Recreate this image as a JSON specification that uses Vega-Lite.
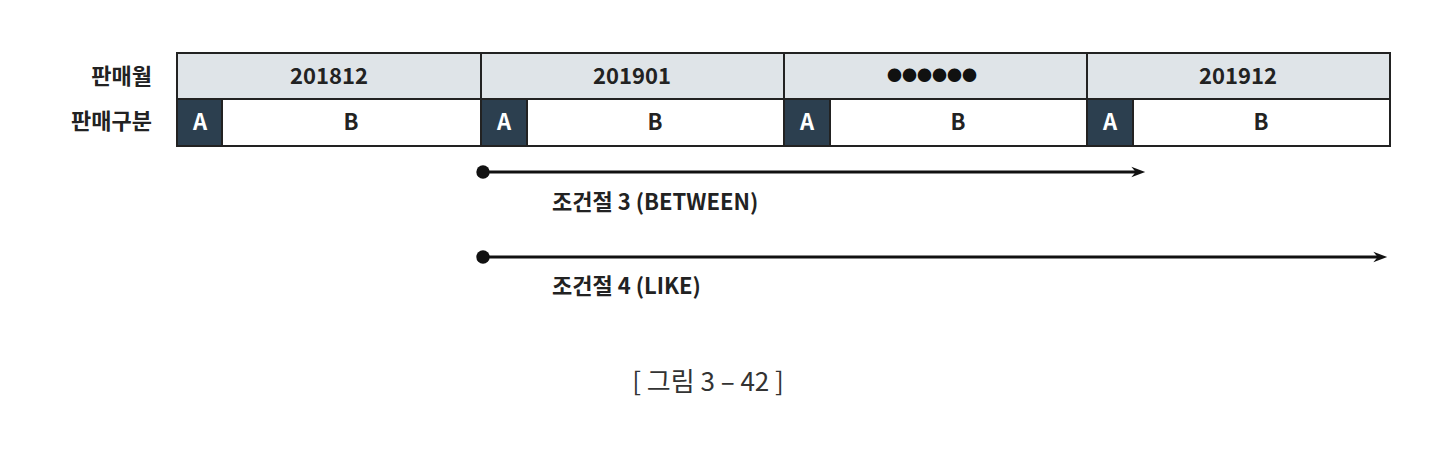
{
  "$schema": "https://vega.github.io/schema/vega-lite/v6.json",
  "width": 1440,
  "height": 465,
  "padding": 0,
  "autosize": {"type": "none"},
  "background": "#ffffff",
  "view": {"stroke": null},
  "config": {"text": {"font": "Noto Sans CJK KR"}},
  "datasets": {
    "cells": [
      {"x": 177, "x2": 481, "y": 53, "y2": 99, "kind": "month"},
      {"x": 481, "x2": 784, "y": 53, "y2": 99, "kind": "month"},
      {"x": 784, "x2": 1087, "y": 53, "y2": 99, "kind": "month"},
      {"x": 1087, "x2": 1390, "y": 53, "y2": 99, "kind": "month"},
      {"x": 177, "x2": 222, "y": 99, "y2": 146, "kind": "A"},
      {"x": 222, "x2": 481, "y": 99, "y2": 146, "kind": "B"},
      {"x": 481, "x2": 527, "y": 99, "y2": 146, "kind": "A"},
      {"x": 527, "x2": 784, "y": 99, "y2": 146, "kind": "B"},
      {"x": 784, "x2": 830, "y": 99, "y2": 146, "kind": "A"},
      {"x": 830, "x2": 1087, "y": 99, "y2": 146, "kind": "B"},
      {"x": 1087, "x2": 1133, "y": 99, "y2": 146, "kind": "A"},
      {"x": 1133, "x2": 1390, "y": 99, "y2": 146, "kind": "B"}
    ],
    "labels": [
      {"x": 329, "y": 77, "t": "201812", "c": "dark"},
      {"x": 632, "y": 77, "t": "201901", "c": "dark"},
      {"x": 1238, "y": 77, "t": "201912", "c": "dark"},
      {"x": 200, "y": 123, "t": "A", "c": "light"},
      {"x": 351, "y": 123, "t": "B", "c": "dark"},
      {"x": 504, "y": 123, "t": "A", "c": "light"},
      {"x": 655, "y": 123, "t": "B", "c": "dark"},
      {"x": 807, "y": 123, "t": "A", "c": "light"},
      {"x": 958, "y": 123, "t": "B", "c": "dark"},
      {"x": 1110, "y": 123, "t": "A", "c": "light"},
      {"x": 1261, "y": 123, "t": "B", "c": "dark"}
    ],
    "dots": [{"x": 932, "y": 76, "t": "●●●●●●"}],
    "side": [
      {"x": 152, "y": 77, "t": "판매월"},
      {"x": 152, "y": 122, "t": "판매구분"}
    ],
    "arrows": [
      {"x": 483, "x2": 1140, "y": 172},
      {"x": 483, "x2": 1382, "y": 257}
    ],
    "heads": [
      {"x": 1140, "y": 172},
      {"x": 1382, "y": 257}
    ],
    "notes": [
      {"x": 552, "y": 203, "t": "조건절 3 (BETWEEN)"},
      {"x": 552, "y": 287, "t": "조건절 4 (LIKE)"}
    ],
    "caption": [{"x": 708, "y": 383, "t": "[ 그림 3 – 42 ]"}]
  },
  "layer": [
    {
      "data": {"name": "cells"},
      "mark": {"type": "rect", "stroke": "#222222", "strokeWidth": 2},
      "encoding": {
        "x": {"field": "x", "type": "quantitative", "scale": {"domain": [0, 1440], "nice": false, "zero": false}, "axis": null},
        "x2": {"field": "x2"},
        "y": {"field": "y", "type": "quantitative", "scale": {"domain": [0, 465], "reverse": true, "nice": false, "zero": false}, "axis": null},
        "y2": {"field": "y2"},
        "fill": {"field": "kind", "type": "nominal", "scale": {"domain": ["month", "A", "B"], "range": ["#dfe4e8", "#2c3f4f", "#ffffff"]}, "legend": null}
      }
    },
    {
      "data": {"name": "labels"},
      "mark": {"type": "text", "fontSize": 22, "fontWeight": "bold", "baseline": "middle"},
      "encoding": {
        "x": {"field": "x", "type": "quantitative"},
        "y": {"field": "y", "type": "quantitative"},
        "text": {"field": "t"},
        "color": {"field": "c", "type": "nominal", "scale": {"domain": ["dark", "light"], "range": ["#222222", "#ffffff"]}, "legend": null}
      }
    },
    {
      "data": {"name": "dots"},
      "mark": {"type": "text", "fontSize": 15, "letterSpacing": 1, "baseline": "middle", "color": "#111111"},
      "encoding": {
        "x": {"field": "x", "type": "quantitative"},
        "y": {"field": "y", "type": "quantitative"},
        "text": {"field": "t"}
      }
    },
    {
      "data": {"name": "side"},
      "mark": {"type": "text", "fontSize": 22, "fontWeight": "bold", "align": "right", "baseline": "middle", "color": "#222222"},
      "encoding": {
        "x": {"field": "x", "type": "quantitative"},
        "y": {"field": "y", "type": "quantitative"},
        "text": {"field": "t"}
      }
    },
    {
      "data": {"name": "arrows"},
      "mark": {"type": "rule", "strokeWidth": 3, "color": "#111111"},
      "encoding": {
        "x": {"field": "x", "type": "quantitative"},
        "x2": {"field": "x2"},
        "y": {"field": "y", "type": "quantitative"}
      }
    },
    {
      "data": {"name": "arrows"},
      "mark": {"type": "point", "filled": true, "size": 180, "color": "#111111", "opacity": 1},
      "encoding": {
        "x": {"field": "x", "type": "quantitative"},
        "y": {"field": "y", "type": "quantitative"}
      }
    },
    {
      "data": {"name": "heads"},
      "mark": {"type": "point", "shape": "M-1,-0.6L0.6,0L-1,0.6L-0.5,0Z", "filled": true, "size": 300, "color": "#111111", "opacity": 1},
      "encoding": {
        "x": {"field": "x", "type": "quantitative"},
        "y": {"field": "y", "type": "quantitative"}
      }
    },
    {
      "data": {"name": "notes"},
      "mark": {"type": "text", "fontSize": 22, "fontWeight": "bold", "align": "left", "baseline": "middle", "color": "#222222"},
      "encoding": {
        "x": {"field": "x", "type": "quantitative"},
        "y": {"field": "y", "type": "quantitative"},
        "text": {"field": "t"}
      }
    },
    {
      "data": {"name": "caption"},
      "mark": {"type": "text", "fontSize": 26, "align": "center", "baseline": "middle", "color": "#333333"},
      "encoding": {
        "x": {"field": "x", "type": "quantitative"},
        "y": {"field": "y", "type": "quantitative"},
        "text": {"field": "t"}
      }
    }
  ]
}
